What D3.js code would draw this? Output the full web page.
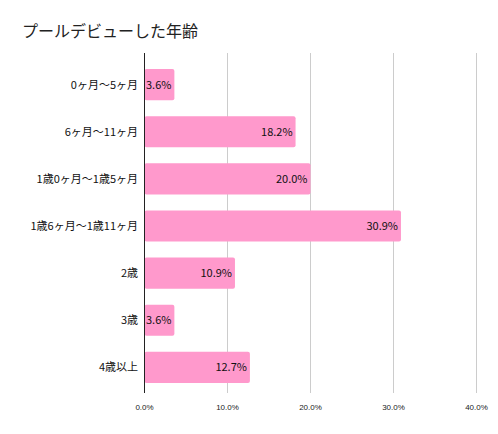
<!DOCTYPE html>
<html><head><meta charset="utf-8">
<script src="https://cdn.jsdelivr.net/npm/d3@7"></script>
<style>body{margin:0;background:#fff;font-family:"Noto Sans CJK JP",sans-serif}</style>
</head><body>
<script>
var categories = ["0ヶ月～5ヶ月", "6ヶ月～11ヶ月", "1歳0ヶ月～1歳5ヶ月", "1歳6ヶ月～1歳11ヶ月", "2歳", "3歳", "4歳以上"];
var values = [3.6, 18.2, 20.0, 30.9, 10.9, 3.6, 12.7];
var ticks = [0, 10, 20, 30, 40];

var svg = d3.select("body").append("svg").attr("width", 498).attr("height", 434);

svg.append("text").attr("x", 22).attr("y", 37)
  .attr("font-size", 16).attr("fill", "#222").text("プールデビューした年齢");

var x = d3.scaleLinear().domain([0, 40]).range([144.5, 476.5]);
var y = d3.scaleBand().domain(categories).range([61, 391]).paddingInner(0.34).paddingOuter(0.17);

// grid
svg.selectAll(".grid").data(ticks.slice(1)).enter().append("line")
  .attr("x1", function (d) { return x(d); }).attr("x2", function (d) { return x(d); })
  .attr("y1", 53).attr("y2", 393).attr("stroke", "#ccc");

svg.selectAll(".tick").data(ticks).enter().append("text")
  .attr("x", function (d) { return x(d); }).attr("y", 410)
  .attr("text-anchor", "middle").attr("font-size", 8).attr("fill", "#222")
  .attr("font-family", "Liberation Sans, sans-serif")
  .text(function (d) { return d.toFixed(1) + "%"; });

svg.selectAll(".bar").data(values).enter().append("rect")
  .attr("x", x(0)).attr("y", function (d, i) { return y(categories[i]); })
  .attr("width", function (d) { return x(d) - x(0); })
  .attr("height", y.bandwidth()).attr("rx", 2).attr("fill", "#ff99cc");

svg.selectAll(".val").data(values).enter().append("text")
  .attr("x", function (d) { return x(d) - 3; })
  .attr("y", function (d, i) { return y(categories[i]) + y.bandwidth() / 2 + 4; })
  .attr("text-anchor", "end").attr("font-size", 11).attr("fill", "#111")
  .text(function (d) { return d.toFixed(1) + "%"; });

svg.selectAll(".cat").data(categories).enter().append("text")
  .attr("x", 138)
  .attr("y", function (d) { return y(d) + y.bandwidth() / 2 + 4; })
  .attr("text-anchor", "end").attr("font-size", 11).attr("fill", "#111")
  .text(function (d) { return d; });

svg.append("line").attr("x1", x(0)).attr("x2", x(0)).attr("y1", 53).attr("y2", 393)
  .attr("stroke", "#222");
</script>
</body></html>
